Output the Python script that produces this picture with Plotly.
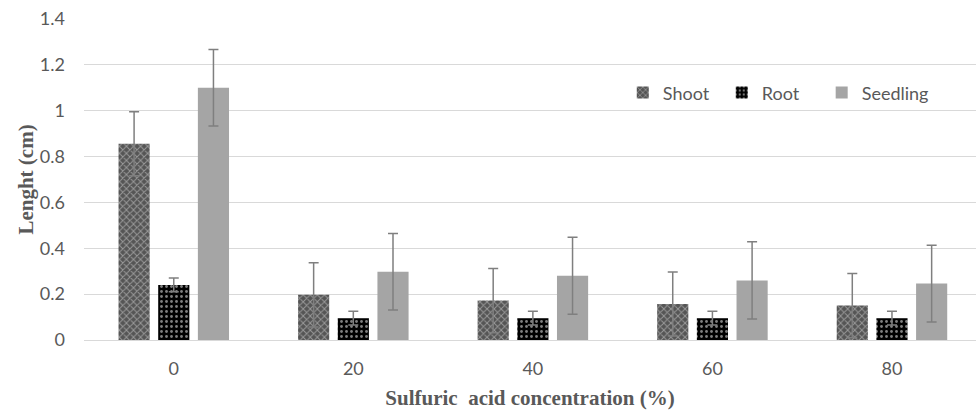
import plotly.graph_objects as go

categories = ["0", "20", "40", "60", "80"]
shoot = [0.856, 0.197, 0.172, 0.157, 0.150]
shoot_err = [0.14, 0.14, 0.14, 0.14, 0.14]
root = [0.240, 0.095, 0.095, 0.095, 0.095]
root_err = [0.03, 0.03, 0.03, 0.03, 0.03]
seedling = [1.10, 0.298, 0.280, 0.260, 0.246]
seedling_err = [0.167, 0.167, 0.168, 0.168, 0.167]

y_ticks = [0, 0.2, 0.4, 0.6, 0.8, 1, 1.2, 1.4]
y_ticktext = ["0", "0.2", "0.4", "0.6", "0.8", "1", "1.2", "1.4"]

err_style = dict(type="data", visible=True, color="#7f7f7f", thickness=1.5, width=5)
tick_font = dict(family="Lato, Open Sans, sans-serif", size=18, color="#595959")
title_font = dict(family="Liberation Serif, Times New Roman, serif", size=21, color="#595959")

fig = go.Figure()
fig.add_trace(go.Bar(
    name="Shoot", x=categories, y=shoot, legend="legend",
    error_y=dict(array=shoot_err, **err_style),
    marker=dict(color="#555555", line=dict(width=0),
                pattern=dict(shape="x", bgcolor="#555555", fgcolor="#dddddd", size=5, solidity=0.35)),
))
fig.add_trace(go.Bar(
    name="Root", x=categories, y=root, legend="legend2",
    error_y=dict(array=root_err, **err_style),
    marker=dict(color="#000000", line=dict(width=0),
                pattern=dict(shape=".", bgcolor="#000000", fgcolor="#ffffff", size=5, solidity=0.25)),
))
fig.add_trace(go.Bar(
    name="Seedling", x=categories, y=seedling, legend="legend3",
    error_y=dict(array=seedling_err, **err_style),
    marker=dict(color="#a5a5a5", line=dict(width=0)),
))

leg_common = dict(orientation="h", y=0.77, xanchor="left", yanchor="middle",
                  font=tick_font, bgcolor="rgba(0,0,0,0)", itemwidth=30)

fig.update_layout(
    width=976, height=411,
    margin=dict(l=84, r=0, t=19, b=71),
    paper_bgcolor="white", plot_bgcolor="white",
    barmode="group", bargap=0.337, bargroupgap=0.215,
    showlegend=True,
    legend=dict(x=0.604, **leg_common),
    legend2=dict(x=0.715, **leg_common),
    legend3=dict(x=0.827, **leg_common),
    xaxis=dict(type="category", range=[-0.5, 4.468], showgrid=False, automargin=False,
               showline=True, linecolor="#d9d9d9", linewidth=1,
               ticks="", tickfont=tick_font, ticklabelstandoff=12,
               title=dict(text="<b>Sulfuric  acid concentration (%)</b>", font=title_font, standoff=12)),
    yaxis=dict(range=[0, 1.4], tickvals=y_ticks, ticktext=y_ticktext, automargin=False,
               showgrid=True, gridcolor="#d9d9d9", gridwidth=1, zeroline=False,
               showline=False, ticks="", tickfont=tick_font, ticklabelstandoff=18,
               title=dict(text="<b>Lenght (cm)</b>", font=title_font, standoff=0)),
)

fig.write_html("out.html", config={"displayModeBar": False},
               post_script="document.body.style.margin='0';document.body.style.overflow='hidden';")
